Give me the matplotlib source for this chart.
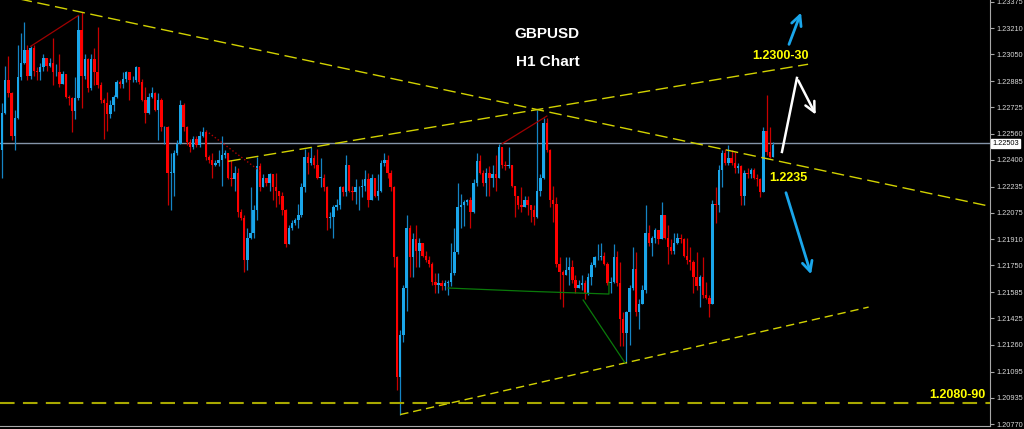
import numpy as np
import matplotlib.pyplot as plt
from matplotlib.transforms import blended_transform_factory

# GBPUSD H1, Kurse in Pips ueber 1.2000
erster_open = 246
closes = [269, 289, 281, 255, 266, 291, 300, 308, 292, 309,
          295, 294, 297, 303, 298, 300, 294, 294, 287, 293,
          279, 278, 270, 278, 320, 292, 302, 284, 302, 294,
          286, 277, 275, 268, 274, 279, 288, 287, 290, 294,
          289, 289, 297, 288, 277, 269, 279, 281, 271, 277,
          260, 260, 232, 232, 244, 250, 274, 260, 251, 248,
          253, 249, 255, 257, 242, 240, 237, 238, 240, 243,
          244, 229, 228, 232, 208, 204, 178, 192, 195, 209,
          236, 223, 229, 226, 231, 223, 221, 218, 209, 188,
          198, 201, 203, 206, 223, 242, 238, 241, 237, 229,
          229, 223, 204, 205, 211, 212, 223, 220, 237, 221,
          220, 223, 223, 224, 228, 215, 229, 218, 221, 238,
          240, 232, 223, 180, 106, 132, 161, 198, 180, 191,
          184, 189, 181, 178, 176, 165, 163, 164, 162, 164,
          165, 170, 183, 211, 212, 214, 215, 208, 226, 239,
          232, 226, 232, 229, 231, 229, 248, 237, 236, 237,
          224, 218, 212, 211, 215, 212, 209, 205, 221, 229,
          263, 246, 215, 213, 176, 171, 169, 172, 174, 166,
          161, 163, 164, 158, 168, 175, 180, 180, 181, 176,
          164, 165, 180, 164, 142, 133, 146, 161, 173, 146,
          151, 160, 195, 189, 192, 197, 191, 206, 192, 186,
          184, 189, 192, 191, 181, 178, 177, 168, 162, 168,
          157, 155, 151, 213, 212, 234, 244, 238, 241, 238,
          235, 236, 218, 232, 231, 234, 229, 228, 220, 258,
          245, 242, 249]
highs = [275, 298, 304, 282, 271, 311, 318, 325, 311, 310,
         311, 297, 300, 305, 303, 303, 315, 299, 305, 295,
         292, 280, 279, 291, 329, 331, 305, 303, 305, 309,
         322, 288, 278, 282, 277, 280, 289, 289, 294, 295,
         294, 292, 298, 297, 290, 285, 281, 285, 282, 281,
         278, 261, 261, 244, 246, 252, 277, 275, 261, 253,
         255, 255, 258, 260, 258, 243, 244, 240, 246, 255,
         246, 244, 240, 236, 235, 210, 206, 198, 223, 212,
         242, 238, 231, 229, 232, 231, 232, 220, 220, 210,
         200, 203, 204, 213, 226, 247, 245, 248, 243, 247,
         241, 231, 224, 208, 212, 216, 224, 224, 243, 237,
         224, 228, 224, 228, 234, 232, 231, 228, 231, 240,
         244, 243, 234, 224, 181, 135, 163, 206, 200, 195,
         200, 192, 189, 184, 181, 177, 170, 170, 166, 166,
         166, 189, 198, 226, 219, 215, 216, 217, 228, 244,
         243, 234, 235, 236, 237, 243, 250, 248, 239, 248,
         237, 224, 218, 223, 218, 218, 212, 212, 271, 231,
         266, 266, 247, 224, 217, 180, 172, 180, 180, 178,
         169, 166, 169, 166, 170, 177, 181, 188, 189, 183,
         177, 168, 188, 184, 177, 146, 147, 163, 186, 183,
         154, 163, 212, 200, 193, 198, 195, 214, 206, 200,
         191, 195, 195, 194, 192, 192, 186, 178, 183, 169,
         180, 165, 157, 215, 223, 237, 246, 247, 249, 246,
         245, 238, 237, 234, 235, 235, 235, 231, 229, 260,
         280, 260, 251]
lows = [229, 268, 279, 252, 246, 265, 289, 299, 289, 290,
        292, 289, 289, 295, 295, 297, 286, 292, 285, 287,
        278, 274, 257, 265, 277, 272, 290, 282, 283, 286,
        284, 275, 253, 258, 266, 270, 278, 284, 284, 288,
        277, 288, 288, 287, 276, 263, 268, 278, 270, 252,
        258, 250, 212, 209, 218, 243, 252, 258, 249, 245,
        247, 248, 248, 254, 240, 238, 229, 236, 236, 224,
        241, 228, 224, 221, 205, 203, 171, 172, 191, 192,
        203, 221, 223, 224, 221, 215, 211, 213, 206, 186,
        188, 197, 200, 198, 205, 220, 231, 237, 235, 228,
        223, 221, 197, 198, 192, 209, 210, 218, 218, 220,
        215, 213, 209, 217, 221, 211, 215, 217, 215, 220,
        236, 229, 221, 174, 98, 83, 128, 147, 168, 168,
        174, 174, 180, 177, 174, 163, 158, 158, 160, 160,
        157, 162, 169, 182, 198, 199, 212, 198, 207, 224,
        231, 224, 218, 218, 223, 221, 229, 235, 234, 235,
        223, 205, 210, 208, 211, 206, 202, 200, 204, 218,
        228, 245, 211, 202, 174, 154, 149, 169, 163, 164,
        158, 161, 160, 154, 157, 163, 174, 178, 178, 175,
        163, 158, 164, 162, 125, 125, 115, 126, 160, 144,
        136, 151, 158, 187, 181, 189, 188, 191, 191, 176,
        182, 182, 188, 189, 180, 176, 172, 158, 160, 149,
        155, 154, 143, 154, 201, 208, 223, 237, 237, 237,
        232, 232, 212, 212, 229, 229, 228, 224, 217, 220,
        243, 241, 242]

preis_ticks = [1.23375, 1.23210, 1.23050, 1.22885, 1.22725, 1.22560, 1.22400,
               1.22235, 1.22075, 1.21910, 1.21750, 1.21585, 1.21425, 1.21260,
               1.21095, 1.20935, 1.20770]
aktueller_preis = 1.22503
support_preis = 1.2090

# pips -> preis
c = 1.2 + np.array(closes) / 1e4
o = np.r_[1.2 + erster_open / 1e4, c[:-1]]
h = np.maximum(1.2 + np.array(highs) / 1e4, np.maximum(o, c))
l = np.minimum(1.2 + np.array(lows) / 1e4, np.minimum(o, c))
x = np.arange(len(c))
up = c >= o

blau = '#1aa6ea'
rot = '#ff0000'
gelb = '#d2d200'
fett = dict(family=['Liberation Sans', 'DejaVu Sans'], fontweight='bold')
schrift = ['Liberation Sans', 'DejaVu Sans']

fig = plt.figure(figsize=(10.24, 4.29), dpi=100, facecolor='black')
ax = fig.add_axes([0, 3 / 429, 990 / 1024, 426 / 429], facecolor='black')
ax.set_xlim(-0.63, 310.1)
ax.set_ylim(1.207595, 1.233855)

# kerzen
ax.vlines(x, l, h, colors=np.where(up, '#1584c4', '#c80000'), lw=0.9, zorder=3)
ax.bar(x, np.maximum(np.abs(c - o), 0.00003), bottom=np.minimum(o, c), width=0.76,
       color=np.where(up, blau, rot), lw=0, zorder=4)

# aktueller preis
ax.axhline(aktueller_preis, color='#8494a8', lw=1, zorder=2)


def linie(i1, p1, i2, p2, x_von, x_bis):
    xs = np.array([x_von, x_bis])
    return xs, p1 + (p2 - p1) / (i2 - i1) * (xs - i1)


# trendlinien (gelb gestrichelt)
xs, ys = linie(25, h[25], 168, h[168], -1, 310)
ax.plot(xs, ys, color=gelb, lw=1, dashes=(9, 4), zorder=5)
xs, ys = linie(95, h[95], 168, h[168], 71, 253)
ax.plot(xs, ys, color=gelb, lw=1, dashes=(9, 4), zorder=5)
xs, ys = linie(125, l[125], 196, l[196], 125, 272)
ax.plot(xs, ys, color=gelb, lw=1, dashes=(6, 3.5), zorder=5)
ax.axhline(support_preis, color='#a8a800', lw=1.5, dashes=(7, 4), zorder=5)

# kleine hilfslinien
ax.plot([64, 81], [1.2258, 1.2233], color='#b00000', lw=1, ls=':', zorder=5)
ax.plot([9, 24], [1.2310, 1.2329], color='#a00000', lw=0.9, zorder=5)
ax.plot([157, 171], [1.2250, 1.2267], color='#a00000', lw=0.9, zorder=5)
ax.plot([140, 165, 190.5, 190.5], [1.2161, 1.2159, 1.21573, 1.21647], color='#0a7a0a', lw=0.9, zorder=5)
ax.plot([182.4, 195.5], [1.21536, 1.2115], color='#0a7a0a', lw=0.9, zorder=5)

# pfeile
pfeil = dict(arrowstyle='->', mutation_scale=18)
ax.annotate('', xy=(251.1, 1.23324), xytext=(246.7, 1.23096),
            arrowprops=dict(color=blau, lw=2, **pfeil))
ax.annotate('', xy=(254.2, 1.21678), xytext=(245.8, 1.22214),
            arrowprops=dict(color=blau, lw=2, **pfeil))
ax.plot([244.8, 249.5], [1.22449, 1.22905], color='white', lw=1.8, zorder=6)
ax.annotate('', xy=(255.8, 1.22664), xytext=(249.5, 1.22905),
            arrowprops=dict(color='white', lw=1.8, **pfeil))

# texte
ax.text(171, 1.23176, 'GBPUSD', color='white', fontsize=11, ha='center', va='center', **fett)
ax.text(171.4, 1.23006, 'H1 Chart', color='white', fontsize=11, ha='center', va='center', **fett)
ax.text(244.2, 1.23040, '1.2300-30', color='#ffff00', fontsize=9, ha='center', va='center', **fett)
ax.text(246.7, 1.22288, '1.2235', color='#ffff00', fontsize=9, ha='center', va='center', **fett)
ax.text(299.9, 1.20950, '1.2080-90', color='#ffff00', fontsize=9, ha='center', va='center', **fett)

# achsen
for s in ['top', 'left']:
    ax.spines[s].set_visible(False)
for s in ['right', 'bottom']:
    ax.spines[s].set_color('#a8a8a8')
ax.set_xticks([])
ax.yaxis.tick_right()
ax.set_yticks(preis_ticks)
ax.set_yticklabels([f'{p:.5f}' for p in preis_ticks], family=schrift)
ax.tick_params(axis='y', colors='#a8a8a8', labelcolor='#d8d8d8', labelsize=5.3, length=3, pad=1.5)

trans = blended_transform_factory(ax.transAxes, ax.transData)
ax.text(1.002, aktueller_preis, '1.22503', transform=trans, fontsize=5.3, color='black',
        family=schrift, va='center', ha='left', clip_on=False, zorder=10,
        bbox=dict(facecolor='white', edgecolor='white', pad=0.8))

fig.savefig('out.png', dpi=100, facecolor='black')
